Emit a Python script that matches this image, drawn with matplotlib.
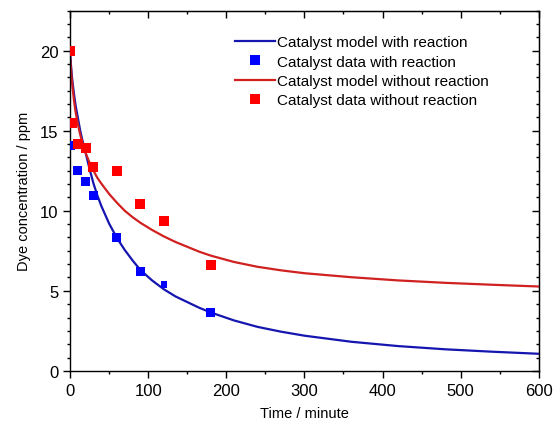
import numpy as np
import matplotlib
matplotlib.use("Agg")
import matplotlib.pyplot as plt
from matplotlib.ticker import MultipleLocator, AutoMinorLocator

plt.rcParams['font.family'] = ['Liberation Sans', 'DejaVu Sans']

# measured points (minutes, ppm)
t_with = [0, 10, 20, 30, 60, 90, 120, 180]
c_with = [14.1, 12.5, 11.8, 10.95, 8.3, 6.2, 5.4, 3.65]
size_with = [6.5, 6.5, 6.5, 6.5, 6.5, 6.5, 4.5, 6.5]

t_without = [0, 2, 10, 20, 30, 60, 90, 120, 180]
c_without = [20.0, 15.5, 14.15, 13.9, 12.7, 12.5, 10.45, 9.35, 6.6]

# model curves
t_model = [0, 1, 2, 3, 5, 7, 10, 13, 16, 20, 25, 30, 35, 40, 50, 60, 70, 80,
           90, 105, 120, 135, 150, 165, 180, 210, 240, 270, 300, 360, 420,
           480, 540, 600]
c_model_with = [19.9, 19.2, 18.6, 18.1, 17.3, 16.6, 15.8, 15.0, 14.35, 13.6,
                12.6, 11.7, 10.95, 10.3, 9.2, 8.3, 7.55, 6.9, 6.3, 5.65, 5.1,
                4.65, 4.3, 3.95, 3.65, 3.15, 2.75, 2.45, 2.2, 1.82, 1.55,
                1.35, 1.2, 1.07]
c_model_without = [19.7, 19.0, 18.3, 17.8, 16.9, 16.2, 15.4, 14.75, 14.2, 13.6,
                   13.0, 12.5, 12.05, 11.7, 11.05, 10.5, 10.0, 9.6, 9.25, 8.8,
                   8.4, 8.05, 7.75, 7.45, 7.2, 6.8, 6.5, 6.28, 6.1, 5.85, 5.65,
                   5.5, 5.38, 5.27]

fig = plt.figure(figsize=(5.56, 4.27), dpi=100)
ax = fig.add_axes([0.126, 0.129, 0.843, 0.844])

ax.plot(t_model, c_model_with, color='#1515b0', lw=1.6, zorder=2)
ax.scatter(t_with, c_with, s=np.array(size_with) ** 2, marker='s',
           color='#0000ff', lw=0, zorder=3)
ax.plot(t_model, c_model_without, color='#d02020', lw=1.6, zorder=2)
ax.scatter(t_without, c_without, s=6.5 ** 2, marker='s',
           color='#ff0000', lw=0, zorder=3)

# legend entries (order as in the original)
h_line_b, = ax.plot([], [], color='#1515b0', lw=1.6)
h_pt_b, = ax.plot([], [], 's', color='#0000ff', ms=6.5, mew=0, ls='none')
h_line_r, = ax.plot([], [], color='#d02020', lw=1.6)
h_pt_r, = ax.plot([], [], 's', color='#ff0000', ms=6.5, mew=0, ls='none')

ax.set_xlim(0, 600)
ax.set_ylim(0, 22.5)
ax.xaxis.set_major_locator(MultipleLocator(100))
ax.xaxis.set_minor_locator(AutoMinorLocator(2))
ax.yaxis.set_major_locator(MultipleLocator(5))
ax.yaxis.set_minor_locator(AutoMinorLocator(6))
ax.tick_params(which='major', direction='out', length=5, width=1, labelsize=12)
ax.tick_params(which='minor', direction='out', length=2.5, width=1)

for side in ['top', 'right']:
    if side == 'top':
        sec = ax.secondary_xaxis('top')
        sec.xaxis.set_major_locator(MultipleLocator(100))
        sec.xaxis.set_minor_locator(AutoMinorLocator(2))
    else:
        sec = ax.secondary_yaxis('right')
        sec.yaxis.set_major_locator(MultipleLocator(5))
        sec.yaxis.set_minor_locator(AutoMinorLocator(6))
    sec.tick_params(which='major', direction='in', length=5, width=1,
                    labeltop=False, labelright=False)
    sec.tick_params(which='minor', direction='in', length=2.5, width=1)

for sp in ax.spines.values():
    sp.set_linewidth(1.0)

ax.set_xlabel('Time / minute', fontsize=10.5, labelpad=6)
ax.set_ylabel('Dye concentration / ppm', fontsize=10.5, labelpad=6)

ax.legend([h_line_b, h_pt_b, h_line_r, h_pt_r],
          ['Catalyst model with reaction', 'Catalyst data with reaction',
           'Catalyst model without reaction', 'Catalyst data without reaction'],
          loc='upper left', bbox_to_anchor=(235 / 556, 1 - 36 / 427),
          bbox_transform=fig.transFigure, frameon=False, fontsize=11,
          handlelength=2.6, handletextpad=0.15, labelspacing=0.36,
          borderpad=0, borderaxespad=0)

fig.savefig('out.png', dpi=100)
